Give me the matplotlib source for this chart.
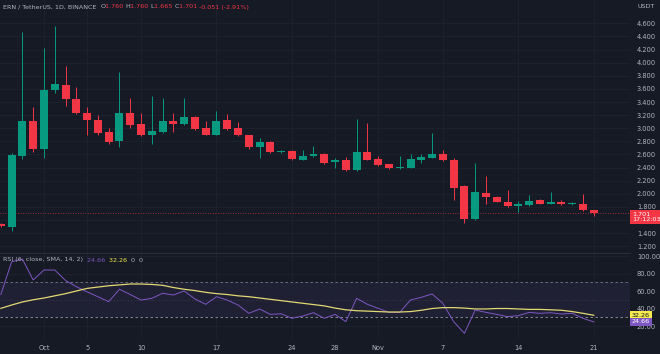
import numpy as np
import pandas as pd
import matplotlib
matplotlib.use("Agg")
import matplotlib.pyplot as plt
from matplotlib.transforms import blended_transform_factory

# ---- data (ERN/USDT daily) ----
dates = pd.date_range("2022-09-27", "2022-11-21", freq="D")

opens = [1.54, 1.50, 2.58, 3.11, 2.68, 3.58, 3.66, 3.45, 3.23, 3.13,
         2.95, 2.80, 3.23, 3.06, 2.90, 2.95, 3.11, 3.06, 3.17, 3.00,
         2.90, 3.12, 3.00, 2.90, 2.71, 2.79, 2.64, 2.66, 2.52, 2.57,
         2.61, 2.48, 2.52, 2.36, 2.64, 2.53, 2.45, 2.39, 2.40, 2.51,
         2.55, 2.60, 2.52, 2.12, 1.61, 2.02, 1.95, 1.88, 1.81, 1.83,
         1.90, 1.85, 1.88, 1.84, 1.85, 1.760]
highs = [1.55, 2.62, 4.46, 3.32, 4.22, 4.56, 3.95, 3.63, 3.32, 3.20,
         3.01, 3.86, 3.46, 3.23, 3.49, 3.46, 3.23, 3.46, 3.18, 3.11,
         3.27, 3.21, 3.10, 2.90, 2.85, 2.80, 2.67, 2.67, 2.67, 2.73,
         2.62, 2.54, 2.56, 3.14, 3.08, 2.57, 2.46, 2.57, 2.60, 2.60,
         2.92, 2.67, 2.54, 2.13, 2.47, 2.27, 1.96, 2.06, 1.89, 1.98,
         1.92, 2.03, 1.91, 1.87, 2.00, 1.760]
lows = [1.50, 1.44, 2.53, 2.64, 2.54, 3.54, 3.34, 3.21, 2.90, 2.90,
        2.76, 2.72, 3.01, 2.88, 2.76, 2.92, 2.95, 3.05, 2.98, 2.89,
        2.89, 2.98, 2.88, 2.68, 2.54, 2.63, 2.63, 2.52, 2.51, 2.56,
        2.46, 2.40, 2.35, 2.35, 2.51, 2.43, 2.38, 2.38, 2.39, 2.47,
        2.54, 2.50, 1.91, 1.55, 1.60, 1.85, 1.87, 1.80, 1.72, 1.82,
        1.84, 1.84, 1.83, 1.83, 1.74, 1.665]
closes = [1.51, 2.59, 3.11, 2.68, 3.59, 3.67, 3.44, 3.23, 3.12, 2.93,
          2.79, 3.23, 3.05, 2.90, 2.96, 3.11, 3.06, 3.17, 2.99, 2.90,
          3.11, 2.99, 2.89, 2.71, 2.79, 2.64, 2.66, 2.53, 2.57, 2.61,
          2.47, 2.52, 2.36, 2.64, 2.52, 2.44, 2.39, 2.41, 2.53, 2.56,
          2.60, 2.51, 2.09, 1.62, 2.03, 1.95, 1.88, 1.81, 1.84, 1.89,
          1.85, 1.88, 1.84, 1.86, 1.752, 1.701]

rsi = [56, 93.5, 96.5, 72.6, 84, 84, 72, 65, 59, 53.5,
       47.8, 62, 56, 49.7, 51.6, 57.4, 55.4, 60, 50.9, 44.8,
       53.5, 49.7, 44, 34.5, 39.4, 33.3, 34, 28.8, 31.4, 35.2,
       28.8, 33.3, 25, 51.6, 44.8, 40.2, 35.6, 35.6, 49.7, 52.8,
       56.6, 45.9, 25, 11.6, 38.3, 35.6, 33.3, 30.7, 31.8, 35.6,
       34.5, 35.2, 33.7, 34.5, 28.8, 24.66]
rsi_sma = [40.2, 44, 47.5, 50, 52, 54.5, 57, 60, 63, 64.5,
           66, 67, 68, 68, 67.5, 66.5, 64, 62, 60.5, 58.5,
           57, 56, 54.5, 53.5, 52, 50.5, 49, 47.5, 46, 44.5,
           43, 40.5, 38.5, 37.5, 37, 36.5, 36, 36, 36.5, 38,
           40, 41, 41, 40.5, 39.5, 39.5, 40, 40, 39.5, 39,
           39, 38.5, 38, 36.5, 34.5, 32.26]

price_ticks = [1.2, 1.4, 1.6, 1.8, 2.0, 2.2, 2.4, 2.6, 2.8, 3.0, 3.2,
               3.4, 3.6, 3.8, 4.0, 4.2, 4.4, 4.6]
rsi_ticks = [20, 40, 60, 80, 100]
tick_dates = ["2022-10-01", "2022-10-05", "2022-10-10", "2022-10-17", "2022-10-24",
              "2022-10-28", "2022-11-01", "2022-11-07", "2022-11-14", "2022-11-21"]
tick_labels = ["Oct", "5", "10", "17", "24", "28", "Nov", "7", "14", "21"]

# ---- colours ----
bg = "#161a25"
grid_c = "#1f2330"
txt_c = "#b2b5be"
up_c = "#089981"
down_c = "#f23645"
rsi_c = "#7e57c2"
sma_c = "#e3d873"

x = np.arange(len(dates))
o, h, l, c = map(np.array, (opens, highs, lows, closes))
tick_pos = [dates.get_loc(pd.Timestamp(d)) for d in tick_dates]

fig = plt.figure(figsize=(6.6, 3.54), dpi=100, facecolor=bg)
ax = fig.add_axes([0, 101 / 354, 630 / 660, 253 / 354], facecolor=bg)
ax2 = fig.add_axes([0, 16 / 354, 630 / 660, 84 / 354], facecolor=bg)

# ---- candles ----
cols = np.where(c >= o, up_c, down_c)
ax.vlines(x, l, h, colors=cols, linewidth=0.7, zorder=3)
body_lo = np.minimum(o, c)
body_h = np.maximum(np.abs(c - o), 0.018)
ax.bar(x, body_h, bottom=body_lo, width=0.74, color=cols, linewidth=0, zorder=4)

ax.axhline(closes[-1], color=down_c, linewidth=0.6, linestyle=(0, (1, 2)), alpha=0.8, zorder=2)

ax.set_xlim(-0.08, 58.36)
ax.set_ylim(1.098, 4.955)
ax.set_xticks(tick_pos)
ax.set_xticklabels([])
ax.set_yticks(price_ticks)
# 1.600 sits under the last-price tag in the reference
ax.set_yticklabels(["" if abs(t - 1.6) < 1e-9 else "%.3f" % t for t in price_ticks])
ax.yaxis.tick_right()
ax.tick_params(axis="both", length=0, colors=txt_c, labelsize=4.8, pad=5)
ax.grid(True, color=grid_c, linewidth=0.6)
for s in ax.spines.values():
    s.set_visible(False)
ax.spines["bottom"].set_visible(True)
ax.spines["bottom"].set_color("#2a2e39")

ax.text(1.012, 1.0 - 6 / 253, "USDT", transform=ax.transAxes, color=txt_c,
        fontsize=4.6, ha="left", va="center")

tr = blended_transform_factory(ax.transAxes, ax.transData)
ax.annotate("%.3f\n17:12:03" % closes[-1], xy=(1.003, closes[-1]), xycoords=tr,
            xytext=(0, -2.4), textcoords="offset points", color="white",
            fontsize=4.6, ha="left", va="center", linespacing=1.1, zorder=10,
            annotation_clip=False,
            bbox=dict(boxstyle="square,pad=0.3", fc=down_c, ec="none"))

# header
hx = 3 / 630
hy = 1.0 - 7 / 253
parts = [("ERN / TetherUS, 1D, BINANCE  ", txt_c), ("O", txt_c), ("%.3f " % opens[-1], down_c),
         ("H", txt_c), ("%.3f " % highs[-1], down_c), ("L", txt_c), ("%.3f " % lows[-1], down_c),
         ("C", txt_c), ("%.3f " % closes[-1], down_c),
         ("%.3f (%.2f%%)" % (closes[-1] - closes[-2], (closes[-1] / closes[-2] - 1) * 100), down_c)]
fig.canvas.draw()
renderer = fig.canvas.get_renderer()
for s, col in parts:
    t = ax.text(hx, hy, s, transform=ax.transAxes, color=col, fontsize=4.6, ha="left", va="center")
    bb = t.get_window_extent(renderer=renderer)
    hx += bb.width / (ax.bbox.width)

# ---- RSI panel ----
ax2.axhspan(30, 70, color=rsi_c, alpha=0.1, linewidth=0)
ax2.axhline(70, color="#787b86", linewidth=0.6, linestyle=(0, (3, 3)))
ax2.axhline(50, color="#787b86", linewidth=0.5, linestyle=(0, (1, 3)), alpha=0.5)
ax2.axhline(30, color="#9598a1", linewidth=0.6, linestyle=(0, (3, 3)))
ax2.plot(x, rsi, color=rsi_c, linewidth=0.7, zorder=3)
ax2.plot(x, rsi_sma, color=sma_c, linewidth=0.9, zorder=4)

ax2.set_xlim(-0.08, 58.36)
ax2.set_ylim(6.3, 102.3)
ax2.set_xticks(tick_pos)
ax2.set_xticklabels(tick_labels)
ax2.set_yticks(rsi_ticks)
ax2.set_yticklabels(["%.2f" % t for t in rsi_ticks])
ax2.yaxis.tick_right()
ax2.tick_params(axis="y", length=0, colors=txt_c, labelsize=4.8, pad=5)
ax2.tick_params(axis="x", length=0, colors=txt_c, labelsize=4.8, pad=5)
ax2.grid(True, color=grid_c, linewidth=0.6)
for s in ax2.spines.values():
    s.set_visible(False)

tr2 = blended_transform_factory(ax2.transAxes, ax2.transData)
ax2.text(1.003, rsi_sma[-1], "%.2f" % rsi_sma[-1], transform=tr2, color="#131722",
         fontsize=4.6, ha="left", va="center", zorder=10, clip_on=False,
         bbox=dict(boxstyle="square,pad=0.3", fc="#f5e94e", ec="none"))
ax2.text(1.003, rsi[-1], "%.2f" % rsi[-1], transform=tr2, color="white",
         fontsize=4.6, ha="left", va="center", zorder=11, clip_on=False,
         bbox=dict(boxstyle="square,pad=0.3", fc=rsi_c, ec="none"))

hx = 3 / 630
hy = 1.0 - 6 / 84
parts = [("RSI (6, close, SMA, 14, 2)  ", txt_c), ("%.2f  " % rsi[-1], rsi_c),
         ("%.2f  " % rsi_sma[-1], "#f5e94e"), ("0  0", txt_c)]
for s, col in parts:
    t = ax2.text(hx, hy, s, transform=ax2.transAxes, color=col, fontsize=4.6, ha="left", va="center")
    bb = t.get_window_extent(renderer=renderer)
    hx += bb.width / (ax2.bbox.width)

fig.savefig("out.png", dpi=100, facecolor=bg)
